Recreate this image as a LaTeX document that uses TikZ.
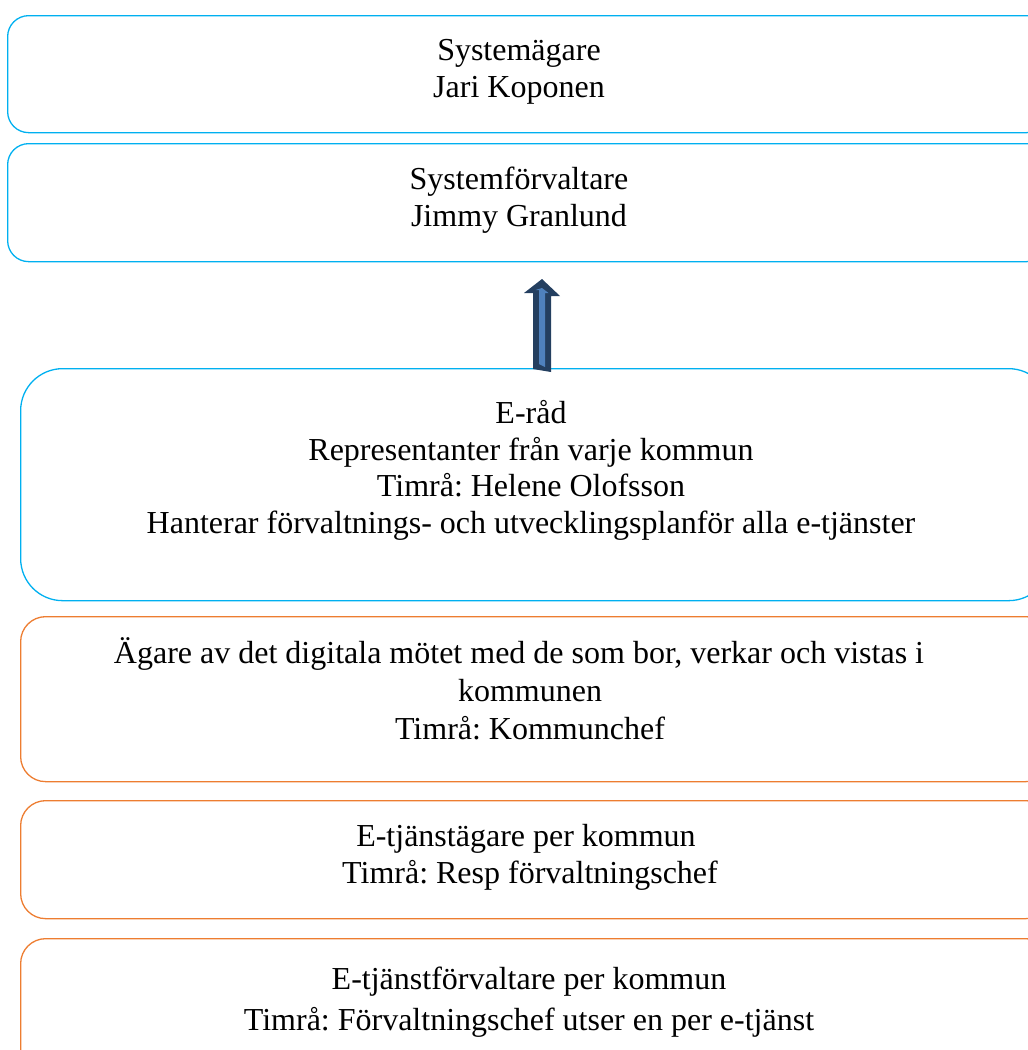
\documentclass[tikz,border=0pt]{standalone}
\usepackage{fontspec}
\setmainfont{Liberation Serif}
\frenchspacing
\definecolor{bl}{HTML}{00B0F0}
\definecolor{orn}{HTML}{ED7D31}
\definecolor{arrdark}{HTML}{243F60}
\definecolor{arrfill}{HTML}{4F81BD}
\begin{document}
\begin{tikzpicture}[x=1pt,y=-1pt,
  box/.style={draw, line width=1.3pt, inner sep=0pt, anchor=north west},
  bluebox/.style={box, draw=bl, rounded corners=21pt},
  orbox/.style={box, draw=orn, rounded corners=25pt},
  txt/.style={align=center, inner sep=0pt, anchor=base, font=\fontsize{32}{36.5}\selectfont\frenchspacing},
  txtwide/.style={txt, font=\fontsize{32}{38}\selectfont\frenchspacing},
  txtwider/.style={txt, font=\fontsize{32}{41}\selectfont\frenchspacing}]
\useasboundingbox (0,0) rectangle (1028,1050);
\begin{scope}
\clip (0,0) rectangle (1028,1050);
\node[bluebox, minimum width=1040pt, minimum height=117pt] (b1) at (7,15) {};
\node[bluebox, minimum width=1040pt, minimum height=118pt] (b2) at (7,143) {};
\node[bluebox, rounded corners=42pt, minimum width=1030pt, minimum height=232pt] (b3) at (20,368) {};
\node[orbox, minimum width=1030pt, minimum height=165pt] (b4) at (20,616) {};
\node[orbox, minimum width=1030pt, minimum height=118pt] (b5) at (20,800) {};
\node[orbox, minimum width=1030pt, minimum height=140pt] (b6) at (20,938) {};
\end{scope}

\node[txt] (t1) at (519,97) {Systemägare\\Jari Koponen};
\node[txt] (t2) at (519,226) {Systemförvaltare\\Jimmy Granlund};
\node[txt] (t3) at (531,533) {E-råd\\Representanter från varje kommun\\Timrå: Helene Olofsson\\Hanterar förvaltnings- och utvecklingsplanför alla e-tjänster};
\node[txtwide] (t4) at (530,739) {Ägare av det digitala mötet med de som bor, verkar och vistas i\kern22pt\\kommunen\\Timrå: Kommunchef};
\node[txt] (t5) at (526,883) {E-tjänstägare per kommun\\\ Timrå: Resp förvaltningschef};
\node[txtwider] (t6) at (529,1030) {E-tjänstförvaltare per kommun\\Timrå: Förvaltningschef utser en per e-tjänst};

% arrow from E-råd up towards Systemförvaltare
\coordinate (ab) at (b3.north -| 542,0);
\fill[arrdark] (ab) ++(-9,1) -- ++(0,-76) -- ++(-9,0) -- (542,279) -- (560,296) -- ++(-9,0) -- ++(0,76) -- cycle;
\fill[arrfill] (ab) ++(-3,-4) -- ++(0,-74) -- ++(-3.5,0) -- (542,288) -- (548.5,293) -- ++(-3.5,0) -- ++(0,74) -- cycle;
\end{tikzpicture}
\end{document}
